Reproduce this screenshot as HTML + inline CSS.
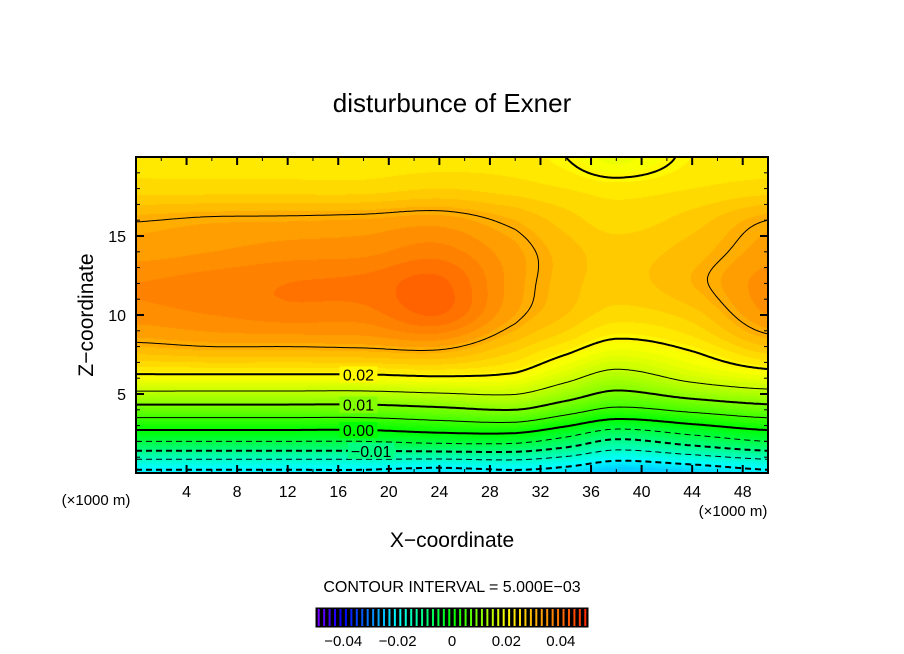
<!DOCTYPE html>
<html><head><meta charset="utf-8"><style>
html,body{margin:0;padding:0;background:#fff;}
#wrap{position:relative;width:904px;height:654px;overflow:hidden;font-family:"Liberation Sans",sans-serif;}
canvas{position:absolute;left:136px;top:157px;}
svg{position:absolute;left:0;top:0;}
</style></head><body>
<div id="wrap">
<canvas id="fill" width="632" height="316"></canvas>
<svg id="svg" width="904" height="654">
<text x="452" y="112" text-anchor="middle" font-size="26" font-family="Liberation Sans, sans-serif">disturbunce of Exner</text>
<text x="0" y="0" transform="translate(93,315) rotate(-90)" text-anchor="middle" font-size="21" font-family="Liberation Sans, sans-serif">Z−coordinate</text>
<text x="452" y="547" text-anchor="middle" font-size="21" font-family="Liberation Sans, sans-serif">X−coordinate</text>
<text x="96" y="505" text-anchor="middle" font-size="15" font-family="Liberation Sans, sans-serif">(×1000 m)</text>
<text x="733" y="516" text-anchor="middle" font-size="15" font-family="Liberation Sans, sans-serif">(×1000 m)</text>
<text x="452" y="592" text-anchor="middle" font-size="16" font-family="Liberation Sans, sans-serif">CONTOUR INTERVAL = 5.000E−03</text>
<g id="contours"></g>
<g id="labels"></g>
<g id="axes"></g>
<g id="cbar"></g>
</svg>
</div>
<script>
// grid data: x positions (km), z positions (km), values per x column over z
const xs = [0, 6, 12, 18, 24, 30, 34, 38, 44, 50];
const zs = [0, 2, 4, 6, 8, 10, 12, 14, 16, 18, 20];
const col0  = [-0.021,-0.005,0.008,0.019,0.0245,0.027,0.0275,0.026,0.0249,0.022,0.021];
const col6  = [-0.021,-0.005,0.008,0.019,0.025,0.0275,0.028,0.0265,0.0253,0.022,0.021];
const col12 = [-0.021,-0.005,0.008,0.019,0.025,0.028,0.0285,0.027,0.0254,0.022,0.021];
const col18 = [-0.021,-0.005,0.008,0.019,0.0252,0.028,0.0288,0.0272,0.0256,0.022,0.021];
const col24 = [-0.022,-0.004,0.009,0.0195,0.0255,0.0295,0.0298,0.028,0.026,0.0225,0.021];
const col30 = [-0.021,-0.004,0.010,0.019,0.023,0.0255,0.026,0.0258,0.0245,0.022,0.021];
const col34 = [-0.022,-0.007,0.007,0.016,0.021,0.0235,0.024,0.024,0.023,0.0215,0.020];
const col38 = [-0.024,-0.011,0.004,0.013,0.019,0.022,0.023,0.023,0.022,0.021,0.018];
const col44 = [-0.023,-0.008,0.006,0.016,0.0205,0.023,0.0245,0.024,0.023,0.0215,0.0205];
const col50 = [-0.021,-0.005,0.008,0.018,0.0235,0.0265,0.027,0.026,0.025,0.022,0.021];
const columns = [col0,col6,col12,col18,col24,col30,col34,col38,col44,col50];
const levels = [-0.02,-0.015,-0.01,-0.005,0,0.005,0.01,0.015,0.02,0.025];
const xTicks = [4,8,12,16,20,24,28,32,36,40,44,48];
const zTicks = [5,10,15];
const cbarTicks = [-0.04,-0.02,0,0.02,0.04];
const cbarTickLabels = ["−0.04","−0.02","0","0.02","0.04"];
const contourLabels = [{v:0.02,t:"0.02",x:17.6},{v:0.01,t:"0.01",x:17.6},{v:0,t:"0.00",x:17.6},{v:-0.01,t:"−0.01",x:18.6}];

const PX0=136,PX1=768,PY0=473,PY1=157,XMAX=50,ZMAX=20;
function sx(x){return PX0+(x/XMAX)*(PX1-PX0);}
function sy(z){return PY0-(z/ZMAX)*(PY0-PY1);}
function fracIdx(arr,v){
  if(v<=arr[0])return 0;
  for(let i=0;i<arr.length-1;i++){if(v<=arr[i+1])return i+(v-arr[i])/(arr[i+1]-arr[i]);}
  return arr.length-1;
}
function cr(p0,p1,p2,p3,t){return 0.5*((2*p1)+(-p0+p2)*t+(2*p0-5*p1+4*p2-p3)*t*t+(-p0+3*p1-3*p2+p3)*t*t*t);}
function G(i,j){i=Math.max(0,Math.min(xs.length-1,i));j=Math.max(0,Math.min(zs.length-1,j));return columns[i][j];}
function field(x,z){
  const fi=fracIdx(xs,x), fj=fracIdx(zs,z);
  let i=Math.min(Math.floor(fi),xs.length-2), j=Math.min(Math.floor(fj),zs.length-2);
  const tx=fi-i, tz=fj-j; const r=[];
  for(let a=-1;a<=2;a++){r.push(cr(G(i+a,j-1),G(i+a,j),G(i+a,j+1),G(i+a,j+2),tz));}
  return cr(r[0],r[1],r[2],r[3],tx);
}
function hsl2rgb(h,s,l){h/=360;const f=n=>{const k=(n+h*12)%12;const a=s*Math.min(l,1-l);return l-a*Math.max(-1,Math.min(k-3,9-k,1));};return [f(0)*255,f(8)*255,f(4)*255];}
function cmap(v){
  v=Math.round(v/0.001)*0.001;
  let h;
  if(v<=0.0195)h=120-3077*v; else h=60-3500*(v-0.0195);
  if(h>270)h=270; if(h<22)h=22;
  return hsl2rgb(h,1,0.5);
}
function cbmap(v){
  let h;
  if(v<=0.02)h=120-3000*v; else h=60-1700*(v-0.02);
  if(h>270)h=270; if(h<0)h=0;
  return hsl2rgb(h,1,0.5);
}
function css(c){return 'rgb('+c.map(Math.round).join(',')+')';}
const NS='http://www.w3.org/2000/svg';
function mk(tag,attrs,parent){const e=document.createElementNS(NS,tag);for(const k in attrs)e.setAttribute(k,attrs[k]);parent.appendChild(e);return e;}

// fill
const cv=document.getElementById('fill'),ctx=cv.getContext('2d');
const W=632,H=316,img=ctx.createImageData(W,H);
for(let py=0;py<H;py++){const z=(PY0-(157+py+0.5))/(PY0-PY1)*ZMAX;
  for(let px=0;px<W;px++){const x=(px+0.5)/(PX1-PX0)*XMAX;const c=cmap(field(x,z));const k=(py*W+px)*4;img.data[k]=c[0];img.data[k+1]=c[1];img.data[k+2]=c[2];img.data[k+3]=255;}}
ctx.putImageData(img,0,0);

// contours via marching squares with chaining
const S=2,NX=Math.ceil(W/S),NZ=Math.ceil(H/S);
const vals=[];
for(let i=0;i<=NX;i++){vals[i]=[];for(let j=0;j<=NZ;j++){vals[i][j]=field(Math.min(i*S,W)/W*XMAX,Math.min(j*S,H)/H*ZMAX);}}
const gC=document.getElementById('contours');
levels.forEach(L=>{
  const pts={},adj={};
  function edgePt(key,x1,z1,v1,x2,z2,v2){if(!pts[key]){const t=(L-v1)/(v2-v1);pts[key]=[x1+(x2-x1)*t,z1+(z2-z1)*t];}return key;}
  function link(a,b){(adj[a]=adj[a]||[]).push(b);(adj[b]=adj[b]||[]).push(a);}
  for(let i=0;i<NX;i++)for(let j=0;j<NZ;j++){
    const x0=i*S,x1=Math.min((i+1)*S,W),z0=j*S,z1=Math.min((j+1)*S,H);
    const a=vals[i][j],b=vals[i+1][j],c=vals[i+1][j+1],d=vals[i][j+1];
    const e=[];
    if((a<L)!==(b<L))e.push(edgePt('h'+i+'_'+j,x0,z0,a,x1,z0,b));
    if((b<L)!==(c<L))e.push(edgePt('v'+(i+1)+'_'+j,x1,z0,b,x1,z1,c));
    if((c<L)!==(d<L))e.push(edgePt('h'+i+'_'+(j+1),x1,z1,c,x0,z1,d));
    if((d<L)!==(a<L))e.push(edgePt('v'+i+'_'+j,x0,z1,d,x0,z0,a));
    if(e.length===2)link(e[0],e[1]);else if(e.length===4){link(e[0],e[1]);link(e[2],e[3]);}
  }
  const used={};const lines=[];
  const keys=Object.keys(adj);
  const order=keys.filter(k=>adj[k].length===1).concat(keys);
  order.forEach(k=>{
    if(used[k])return;
    const line=[k];used[k]=true;let cur=k;
    while(true){const nx=(adj[cur]||[]).find(n=>!used[n]);if(!nx)break;used[nx]=true;line.push(nx);cur=nx;}
    lines.push(line);
  });
  const thick=Math.abs(Math.round(L*1000)%10)===0;
  lines.forEach(line=>{
    const d=line.map((k,n)=>{const p=pts[k];const X=PX0+p[0]*(PX1-PX0)/W,Y=PY0-p[1]*(PY0-PY1)/H;return (n?'L':'M')+X.toFixed(1)+' '+Y.toFixed(1);}).join('');
    const attrs={d:d,fill:'none',stroke:'#000','stroke-width':thick?2:1};
    if(L<0)attrs['stroke-dasharray']='6,4';
    const p=mk('path',attrs,gC);
    
    
  });
});

// contour labels
const gL=document.getElementById('labels');
contourLabels.forEach(cl=>{
  let zc=0;for(let z=0;z<12;z+=0.02){if((field(cl.x,z)-cl.v)*(field(cl.x,z+0.02)-cl.v)<=0){zc=z;break;}}
  const X=sx(cl.x),Y=sy(zc);
  const w=cl.t.length*8.5+4;
  const r=mk('rect',{x:X-w/2,y:Y-8,width:w,height:16,fill:css(cmap(field(cl.x,zc)))},gL);
  
  
  const t=mk('text',{x:X,y:Y+6,'text-anchor':'middle','font-size':16,'font-family':'Liberation Sans, sans-serif'},gL);
  t.textContent=cl.t;
  
  
});

// axes
const gA=document.getElementById('axes');
const frame=mk('rect',{x:PX0,y:PY1,width:PX1-PX0,height:PY0-PY1,fill:'none',stroke:'#000','stroke-width':2},gA);


for(let x=2;x<XMAX;x+=2){const maj=x%4===0,len=maj?8:4;
  mk('line',{x1:sx(x),x2:sx(x),y1:PY0,y2:PY0-len,stroke:'#000','stroke-width':maj?2:1},gA);
  mk('line',{x1:sx(x),x2:sx(x),y1:PY1,y2:PY1+len,stroke:'#000','stroke-width':maj?2:1},gA);}
for(let z=1;z<ZMAX;z++){const maj=z%5===0,len=maj?8:4;
  mk('line',{x1:PX0,x2:PX0+len,y1:sy(z),y2:sy(z),stroke:'#000','stroke-width':maj?2:1},gA);
  mk('line',{x1:PX1,x2:PX1-len,y1:sy(z),y2:sy(z),stroke:'#000','stroke-width':maj?2:1},gA);}
xTicks.forEach(x=>{const t=mk('text',{x:sx(x),y:497,'text-anchor':'middle','font-size':16,'font-family':'Liberation Sans, sans-serif'},gA);t.textContent=x;
  
  });
zTicks.forEach(z=>{const t=mk('text',{x:126,y:sy(z)+6,'text-anchor':'end','font-size':16,'font-family':'Liberation Sans, sans-serif'},gA);t.textContent=z;
  
  });

// colorbar
const gB=document.getElementById('cbar');
const CB0=316,CB1=588,CBY=608,CBH=19;
function cbx(v){return CB0+(v+0.05)/0.1*(CB1-CB0);}
const cb=mk('rect',{x:CB0,y:CBY,width:CB1-CB0,height:CBH,fill:'#000',stroke:'#000','stroke-width':1},gB);


for(let v=-0.049;v<0.05;v+=0.002){
  const l=mk('line',{x1:cbx(v),x2:cbx(v),y1:CBY+1,y2:CBY+CBH-1,stroke:css(cbmap(v)),'stroke-width':2},gB);
  
  
}
cbarTicks.forEach((v,i)=>{const t=mk('text',{x:cbx(v),y:646,'text-anchor':'middle','font-size':15,'font-family':'Liberation Sans, sans-serif'},gB);t.textContent=cbarTickLabels[i];
  
  });
</script>
</body></html>
